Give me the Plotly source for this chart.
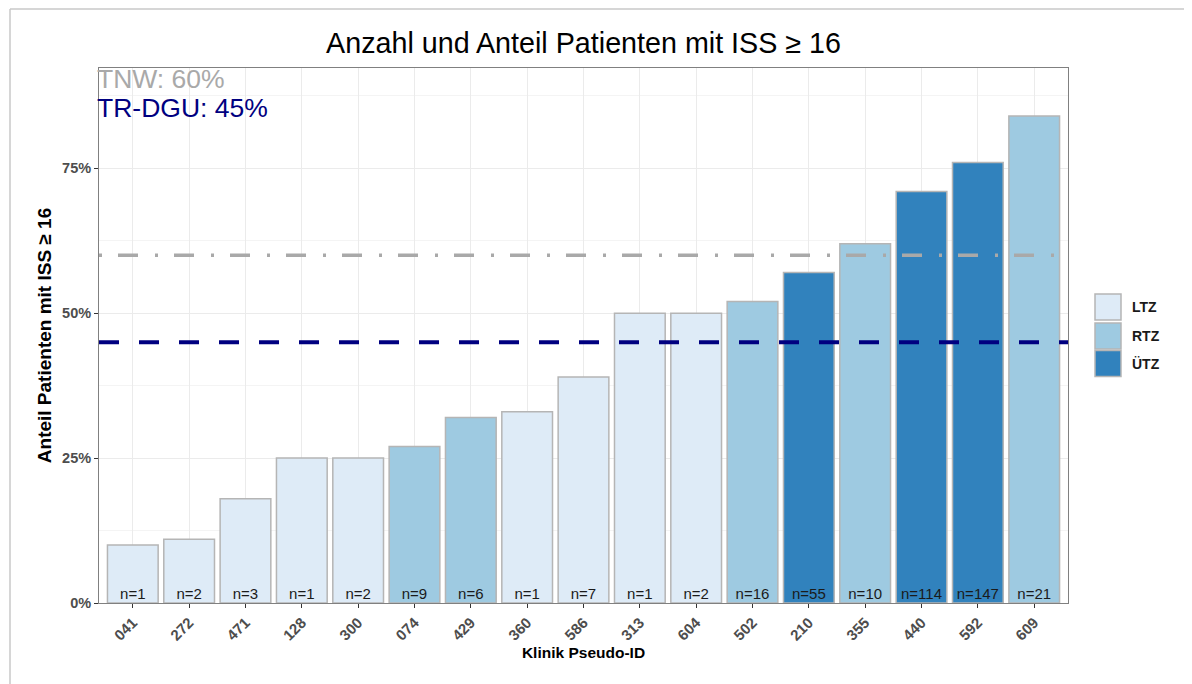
import plotly.graph_objects as go

# ---- data ----
kliniken = ["041", "272", "471", "128", "300", "074", "429", "360", "586",
            "313", "604", "502", "210", "355", "440", "592", "609"]
anteil = [0.10, 0.11, 0.18, 0.25, 0.25, 0.27, 0.32, 0.33, 0.39,
          0.50, 0.50, 0.52, 0.57, 0.62, 0.71, 0.76, 0.84]
anzahl = [1, 2, 3, 1, 2, 9, 6, 1, 7, 1, 2, 16, 55, 10, 114, 147, 21]
typ = ["LTZ", "LTZ", "LTZ", "LTZ", "LTZ", "RTZ", "RTZ", "LTZ", "LTZ",
       "LTZ", "LTZ", "RTZ", "ÜTZ", "RTZ", "ÜTZ", "ÜTZ", "RTZ"]
typ_kategorien = ["LTZ", "RTZ", "ÜTZ"]
typ_farben = {"LTZ": "#deebf7", "RTZ": "#9ecae1", "ÜTZ": "#3182bd"}
ref_tnw = 0.60
ref_dgu = 0.45
y_ticks = [0, 0.25, 0.5, 0.75]
y_ticklabels = ["0%", "25%", "50%", "75%"]

FONT = "Liberation Sans, Arial, sans-serif"

# page coordinates of the plot area (the page body adds an 8px offset)
PX0, PX1, PY0, PY1 = 99, 1068, 68, 603
PW, PH = PX1 - PX0, PY1 - PY0


def px(x):
    return (x - PX0) / PW


def py(y):
    return (PY1 - y) / PH


fig = go.Figure()

fig.add_trace(go.Bar(
    x=kliniken, y=anteil, width=0.9,
    marker=dict(color=[typ_farben[t] for t in typ],
                line=dict(color="#b5b5b5", width=1.5)),
    showlegend=False, hoverinfo="skip",
))

fig.add_trace(go.Scatter(
    x=kliniken, y=[0] * len(kliniken), mode="text",
    text=[f"n={n}" for n in anzahl], textposition="top center",
    textfont=dict(family=FONT, size=15, color="#1a1a1a"),
    showlegend=False, hoverinfo="skip",
))

# reference lines
fig.add_shape(type="line", xref="paper", yref="y", x0=0, x1=1, y0=ref_tnw, y1=ref_tnw,
              line=dict(color="#a9a9a9", width=3.5, dash="3px,16px,20px,17px"))
fig.add_shape(type="line", xref="paper", yref="y", x0=0, x1=1, y0=ref_dgu, y1=ref_dgu,
              line=dict(color="#000080", width=4, dash="20px,20px"))

fig.add_annotation(xref="paper", yref="paper", x=0, y=py(79), xanchor="left", yanchor="middle",
                   xshift=-3, borderpad=0,
                   text=f"TNW: {round(ref_tnw*100)}%", showarrow=False,
                   font=dict(family=FONT, size=26.5, color="#a9a9a9"))
fig.add_annotation(xref="paper", yref="paper", x=0, y=py(108), xanchor="left", yanchor="middle",
                   xshift=-3, borderpad=0,
                   text=f"TR-DGU: {round(ref_dgu*100)}%", showarrow=False,
                   font=dict(family=FONT, size=26.5, color="#000080"))

# manual legend
box_top = [294, 323, 350.5]
for i, k in enumerate(typ_kategorien):
    top = box_top[i]
    bot = top + 26
    fig.add_shape(type="rect", xref="paper", yref="paper",
                  x0=px(1095), x1=px(1121), y0=py(bot), y1=py(top),
                  fillcolor=typ_farben[k], line=dict(color="#b5b5b5", width=1.5))
    fig.add_annotation(xref="paper", yref="paper", x=px(1130), y=py(top + 13),
                       xanchor="left", yanchor="middle",
                       text=f"<b>{k}</b>", showarrow=False,
                       font=dict(family=FONT, size=14, color="#1a1a1a"))

# outer frame (screenshot border)
fig.add_shape(type="line", xref="paper", yref="paper",
              x0=px(10), x1=px(10), y0=py(9), y1=py(700),
              line=dict(color="#c8c8c8", width=1.5))
fig.add_shape(type="line", xref="paper", yref="paper",
              x0=px(10), x1=px(1210), y0=py(9), y1=py(9),
              line=dict(color="#c8c8c8", width=1.5))

W, H = 1184, 676
fig.update_layout(
    width=W, height=H,
    margin=dict(l=PX0 - 8, r=W - (PX1 - 8), t=PY0 - 8, b=H - (PY1 - 8)),
    paper_bgcolor="white", plot_bgcolor="white",
    title=dict(text="Anzahl und Anteil Patienten mit ISS ≥ 16", x=0.5, xref="paper",
               y=1 - (43 - 8) / H, yanchor="middle", xanchor="center",
               font=dict(family=FONT, size=28.7, color="#000000")),
    font=dict(family=FONT),
)

fig.update_xaxes(
    type="category", categoryorder="array", categoryarray=kliniken,
    range=[-0.6, 16.6],
    showgrid=True, gridcolor="#ebebeb", gridwidth=1,
    showline=True, linecolor="#808080", linewidth=1, mirror=True,
    ticks="outside", ticklen=4, tickcolor="#333333", tickwidth=1,
    tickangle=-45,
    tickfont=dict(family=FONT, size=15, color="#4d4d4d", weight="bold"),
    title=dict(text="<b>Klinik Pseudo-ID</b>", standoff=4,
               font=dict(family=FONT, size=15.5, color="#000000")),
    zeroline=False,
)
fig.update_yaxes(
    range=[0, 0.923],
    tickvals=y_ticks, ticktext=y_ticklabels,
    showgrid=True, gridcolor="#ebebeb", gridwidth=1,
    minor=dict(tickvals=[0.125, 0.375, 0.625, 0.875], showgrid=True,
               gridcolor="#f4f4f4", gridwidth=1, ticks=""),
    showline=True, linecolor="#808080", linewidth=1, mirror=True,
    ticks="outside", ticklen=4, tickcolor="#333333", tickwidth=1,
    tickfont=dict(family=FONT, size=14.5, color="#4d4d4d", weight="bold"),
    title=dict(text="<b>Anteil Patienten mit ISS ≥ 16</b>", standoff=5,
               font=dict(family=FONT, size=19, color="#000000")),
    zeroline=False,
)

fig.write_html("out.html")
